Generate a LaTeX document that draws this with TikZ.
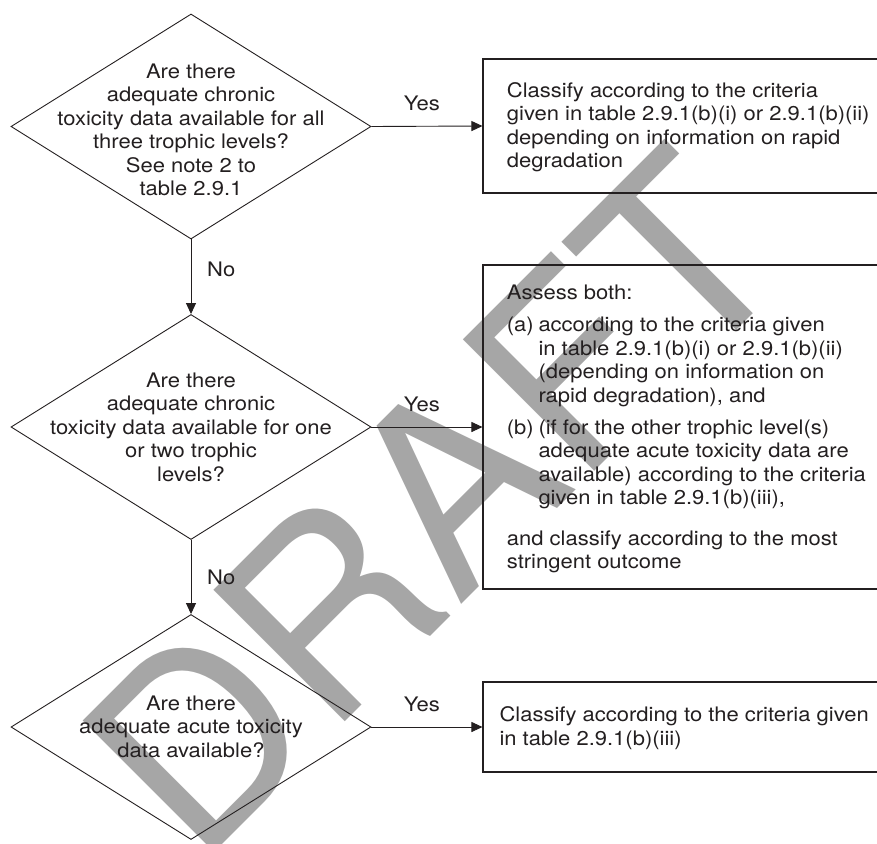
\documentclass[tikz,border=0pt]{standalone}
\usepackage{fontspec}
\setmainfont{TeX Gyre Heros}[FakeStretch=1.1]
\newfontfamily\wmfont{TeX Gyre Heros}
\usetikzlibrary{shapes.geometric,arrows.meta}
\definecolor{ink}{HTML}{231F20}
\definecolor{wm}{HTML}{A6A6A6}
\newcommand{\mlines}[2]{\begin{tabular}[t]{@{}#1@{}}#2\end{tabular}}
\begin{document}
\begin{tikzpicture}[x=1pt,y=-1pt,
  txt/.style={inner sep=0pt, font=\fontsize{20}{23.5}\selectfont, text=ink},
  decision/.style={diamond, draw=ink, line width=0.9pt, minimum width=360pt, minimum height=225pt, inner sep=0pt},
  outcome/.style={rectangle, draw=ink, line width=1.1pt, minimum width=430pt, inner sep=0pt},
  flow/.style={draw=ink, line width=0.9pt, -{Triangle[length=11pt,width=10pt]}}]
\useasboundingbox (0,0) rectangle (877,843);
% watermark
\node[rotate=45, inner sep=0pt, text=wm, font=\wmfont\fontsize{255}{255}\selectfont] (wmk) at (433,502) {DRAFT};
% shapes
\node[decision] (d1) at (191,126.5) {};
\node[decision] (d2) at (191,427) {};
\node[decision] (d3) at (191,727) {};
\node[outcome, minimum height=134pt] (b1) at (698,126) {};
\node[outcome, minimum height=324pt] (b2) at (698,427) {};
\node[outcome, minimum height=90pt] (b3) at (698,727) {};
% texts
\node[txt, anchor=base] (t1) at (191,78.3) {\mlines{c}{Are there\\adequate chronic\\toxicity data available for all\\three trophic levels?\\See note 2 to\\table 2.9.1}};
\node[txt, anchor=base] (t2) at (191,387.3) {\mlines{c}{Are there\\adequate chronic\\toxicity data available for one\\or two trophic\\levels?}};
\node[txt, anchor=base] (t3) at (191,710) {\mlines{c}{Are there\\adequate acute toxicity\\data available?}};
\node[txt, anchor=base west] (u1) at (506.7,97.3) {\mlines{l}{Classify according to the criteria\\given in table 2.9.1(b)(i) or 2.9.1(b)(ii)\\depending on information on rapid\\degradation}};
\node[txt, anchor=base west] (u3) at (499.3,721.7) {\mlines{l}{Classify according to the criteria given\\in table 2.9.1(b)(iii)}};
\node[txt, anchor=base west] (u2) at (506.7,299.3) {\begin{tabular}[t]{@{}l@{}l@{}}
\multicolumn{2}{@{}l@{}}{Assess both:}\\[8.9pt]
\makebox[31.6pt][l]{(a)} & according to the criteria given\\
 & in table 2.9.1(b)(i) or 2.9.1(b)(ii)\\
 & (depending on information on\\
 & rapid degradation), and\\[8.6pt]
\makebox[31.6pt][l]{(b)} & (if for the other trophic level(s)\\
 & adequate acute toxicity data are\\
 & available) according to the criteria\\
 & given in table 2.9.1(b)(iii),\\[16.7pt]
\multicolumn{2}{@{}l@{}}{and classify according to the most}\\
\multicolumn{2}{@{}l@{}}{stringent outcome}
\end{tabular}};
% connectors
\draw[flow] (d1.east) -- node[txt, pos=0.455, anchor=base, yshift=15.3pt] (y1) {Yes} (b1.west);
\draw[flow] (d2.east) -- node[txt, pos=0.455, anchor=base, yshift=15.3pt] (y2) {Yes} (b2.west);
\draw[flow] (d3.east) -- node[txt, pos=0.455, anchor=base, yshift=15.3pt] (y3) {Yes} (b3.west);
\draw[flow] (d1.south) -- node[txt, pos=0.5, anchor=base west, xshift=15.7pt] (n1) {No} (d2.north);
\draw[flow] (d2.south) -- node[txt, pos=0.607, anchor=base west, xshift=15.7pt] (n2) {No} (d3.north);
\end{tikzpicture}
\end{document}
